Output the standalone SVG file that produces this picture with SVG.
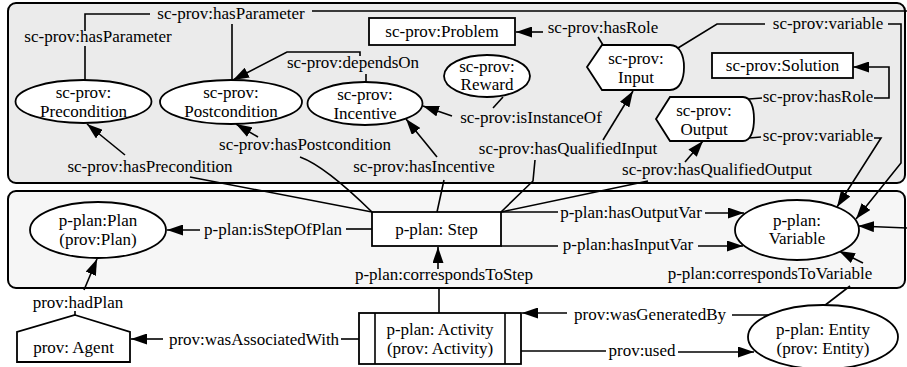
<svg xmlns="http://www.w3.org/2000/svg" width="907" height="367" viewBox="0 0 907 367">
<defs>
<style>
text{font-family:"Liberation Serif","Times New Roman",serif;font-size:17px;fill:#000;text-anchor:middle}
.cl{stroke:#000;stroke-width:2}
.nd{fill:#fff;stroke:#000;stroke-width:1.8}
.e{fill:none;stroke:#000;stroke-width:1.6}
.a{marker-end:url(#ah)}
</style>
<marker id="ah" markerUnits="userSpaceOnUse" markerWidth="16" markerHeight="11" refX="16" refY="5.5" orient="auto">
<path d="M0,0 L16,5.5 L0,11 Z" fill="#000"/>
</marker>
</defs>
<rect width="907" height="367" fill="#fff"/>
<g id="clusters">
<rect class="cl" x="8" y="3" width="897" height="180" rx="8" fill="#ebebeb"/>
<rect class="cl" x="8" y="191" width="897" height="97" rx="8" fill="#f6f6f6"/>
</g>
<g id="connectors">
<path class="e" d="M85,80 V46 M85,31 V14 H150"/>
<text x="98" y="42">sc-prov:hasParameter</text>
<path class="e" d="M232,80 V24 M312,11 H907"/>
<text x="231" y="19">sc-prov:hasParameter</text>
<path class="e" d="M366,82 V74"/>
<path class="e a" d="M360,56 V52 H287 L233,80"/>
<text x="353" y="68">sc-prov:dependsOn</text>
<path class="e" d="M372,212 L190,177"/>
<path class="e a" d="M125,155 L87,124"/>
<text x="150" y="172">sc-prov:hasPrecondition</text>
<path class="e" d="M372,212 Q325,166 300,157"/>
<path class="e a" d="M258,137 L236,124"/>
<text x="305" y="150">sc-prov:hasPostcondition</text>
<path class="e" d="M437,212 L444,180"/>
<path class="e a" d="M437,157 L406,119"/>
<text x="424" y="172">sc-prov:hasIncentive</text>
<path class="e" d="M503,97 L493,108"/>
<path class="e a" d="M452,116 L423,106"/>
<text x="531" y="123">sc-prov:isInstanceOf</text>
<path class="e" d="M501,212 L533,181 L535,160"/>
<path class="e a" d="M603,140 L633,91"/>
<text x="568" y="154">sc-prov:hasQualifiedInput</text>
<path class="e" d="M501,212 L648,181"/>
<path class="e a" d="M685,162 L703,141"/>
<text x="717" y="175">sc-prov:hasQualifiedOutput</text>
<path class="e" d="M603,45 L598,37"/>
<path class="e a" d="M543,32 L516,32"/>
<text x="603" y="33">sc-prov:hasRole</text>
<path class="e" d="M678,48 L717,24 H765"/>
<path class="e a" d="M888,24 H901 V163 L856,219"/>
<text x="828" y="29">sc-prov:variable</text>
<path class="e" d="M749,99 L762,98"/>
<path class="e a" d="M874,98 H889 V67 L853,67"/>
<text x="818" y="102">sc-prov:hasRole</text>
<path class="e" d="M749,138 L761,137"/>
<path class="e a" d="M874,138 H881 L837,207"/>
<text x="818" y="141">sc-prov:variable</text>
<path class="e" d="M501,212 H558"/>
<path class="e a" d="M705,213 H744"/>
<text x="631" y="218">p-plan:hasOutputVar</text>
<path class="e" d="M501,246 H558"/>
<path class="e a" d="M698,246 H743"/>
<text x="628" y="250">p-plan:hasInputVar</text>
<path class="e a" d="M907,228 L858,226"/>
<path class="e" d="M372,229 H346"/>
<path class="e a" d="M200,230 H167"/>
<text x="273" y="235">p-plan:isStepOfPlan</text>
<path class="e" d="M439,313 V288"/>
<path class="e a" d="M438,269 V247"/>
<text x="444" y="280">p-plan:correspondsToStep</text>
<path class="e" d="M359,339 H341"/>
<path class="e a" d="M163,339 H131"/>
<text x="254" y="345">prov:wasAssociatedWith</text>
<path class="e" d="M75,315 V311"/>
<path class="e a" d="M84,290 L97,259"/>
<text x="78" y="308">prov:hadPlan</text>
<path class="e" d="M770,315 H732"/>
<path class="e a" d="M567,313 H522"/>
<text x="650" y="320">prov:wasGeneratedBy</text>
<path class="e" d="M521,351 H606"/>
<path class="e a" d="M678,352 H754"/>
<text x="642" y="356">prov:used</text>
<path class="e" d="M824,306 L850,286"/>
<path class="e a" d="M863,263 L839,251"/>
<text x="770" y="279">p-plan:correspondsToVariable</text>
</g>
<g id="n-precondition">
<ellipse class="nd" cx="83.5" cy="101.5" rx="68" ry="21.5"/>
<text x="83.5" y="98">sc-prov:</text>
<text x="83.5" y="117">Precondition</text>
</g>
<g id="n-postcondition">
<ellipse class="nd" cx="231" cy="102" rx="71" ry="22"/>
<text x="231" y="98">sc-prov:</text>
<text x="231" y="117">Postcondition</text>
</g>
<g id="n-incentive">
<ellipse class="nd" cx="365" cy="103.5" rx="57.5" ry="21.5"/>
<text x="365" y="100">sc-prov:</text>
<text x="365" y="119">Incentive</text>
</g>
<g id="n-reward">
<ellipse class="nd" cx="487" cy="76" rx="43" ry="21"/>
<text x="487" y="71.5">sc-prov:</text>
<text x="487" y="90">Reward</text>
</g>
<g id="n-problem">
<rect class="nd" x="369" y="18" width="146" height="27"/>
<text x="442" y="37">sc-prov:Problem</text>
</g>
<g id="n-input">
<path class="nd" d="M587,67 L602,45 L670,45 C680,45 684,56 684,67 C684,79 680,90 670,90 L602,90 Z"/>
<text x="636" y="64">sc-prov:</text>
<text x="636" y="83">Input</text>
</g>
<g id="n-output">
<path class="nd" d="M656,119 L670,97 L743,97 C751,97 754,108 754,119 C754,130 751,141 743,141 L670,141 Z"/>
<text x="704" y="116">sc-prov:</text>
<text x="704" y="135">Output</text>
</g>
<g id="n-solution">
<rect class="nd" x="712" y="53" width="141" height="25"/>
<text x="782.5" y="71">sc-prov:Solution</text>
</g>
<g id="n-step">
<rect class="nd" x="372" y="212" width="129" height="34"/>
<text x="436.5" y="235">p-plan: Step</text>
</g>
<g id="n-plan">
<ellipse class="nd" cx="98" cy="230" rx="68" ry="28"/>
<text x="98" y="226">p-plan:Plan</text>
<text x="98" y="245">(prov:Plan)</text>
</g>
<g id="n-variable">
<ellipse class="nd" cx="797" cy="230" rx="62" ry="30"/>
<text x="797" y="226">p-plan:</text>
<text x="797" y="244">Variable</text>
</g>
<g id="n-agent">
<path class="nd" d="M75,315 L130,332 L130,362 L17,362 L17,332 Z"/>
<text x="73.5" y="353">prov: Agent</text>
</g>
<g id="n-activity">
<rect class="nd" x="359" y="313" width="162" height="51"/>
<path class="e" d="M375,313 V364 M505,313 V364"/>
<text x="440" y="335">p-plan: Activity</text>
<text x="440" y="354">(prov: Activity)</text>
</g>
<g id="n-entity">
<ellipse class="nd" cx="823" cy="337" rx="75" ry="32"/>
<text x="823" y="335">p-plan: Entity</text>
<text x="823" y="354">(prov: Entity)</text>
</g>
</svg>
